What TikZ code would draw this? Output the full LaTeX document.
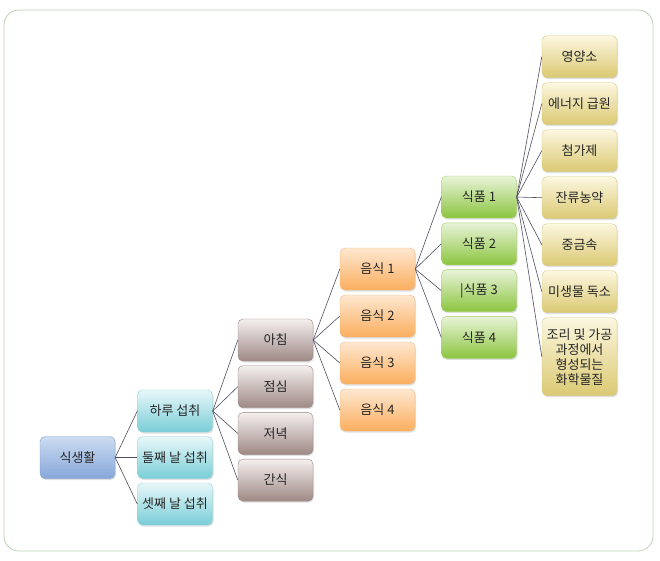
\documentclass[tikz,border=0pt]{standalone}
\usepackage{fontspec}
\setmainfont{Noto Sans CJK KR}
\usepackage{tikz}
\usetikzlibrary{shadows}
\definecolor{framecol}{HTML}{BCD0B2}
\definecolor{linkcol}{HTML}{4E4E60}
\definecolor{blutop}{HTML}{CCDCF0}
\definecolor{blubot}{HTML}{86A6DA}
\definecolor{bluline}{HTML}{7E9CCB}
\definecolor{cyntop}{HTML}{E8F7F9}
\definecolor{cynbot}{HTML}{79CDD7}
\definecolor{cynline}{HTML}{92D2DA}
\definecolor{brntop}{HTML}{F4EFEE}
\definecolor{brnbot}{HTML}{9E8985}
\definecolor{brnline}{HTML}{9A8582}
\definecolor{orgtop}{HTML}{FEE7D0}
\definecolor{orgbot}{HTML}{FBAE5E}
\definecolor{orgline}{HTML}{F6BA7E}
\definecolor{grntop}{HTML}{E8F3D8}
\definecolor{grnbot}{HTML}{8CC53F}
\definecolor{grnline}{HTML}{A2CE6A}
\definecolor{ylwtop}{HTML}{FCF7E0}
\definecolor{ylwbot}{HTML}{DBC972}
\definecolor{ylwline}{HTML}{D6C785}

\begin{document}
\begin{tikzpicture}[x=1pt,y=-1pt,
  box/.style={draw,rounded corners=5pt,minimum width=75pt,minimum height=42pt,inner sep=1pt,
    font=\fontsize{13}{15}\selectfont,text=black!85,align=center,
    drop shadow={opacity=0.25,shadow xshift=1pt,shadow yshift=-1.5pt}},
  blubox/.style={box,draw=bluline,top color=blutop,bottom color=blubot},
  cynbox/.style={box,draw=cynline,top color=cyntop,bottom color=cynbot},
  brnbox/.style={box,draw=brnline,top color=brntop,bottom color=brnbot},
  orgbox/.style={box,draw=orgline,top color=orgtop,bottom color=orgbot},
  grnbox/.style={box,draw=grnline,top color=grntop,bottom color=grnbot},
  ylwbox/.style={box,draw=ylwline,top color=ylwtop,bottom color=ylwbot},
  link/.style={draw=linkcol,line width=0.6pt}]
\useasboundingbox (0,0) rectangle (660,560);
\draw[framecol,line width=0.8pt,rounded corners=15pt] (4,10) rectangle (653,551);
\node[blubox] (diet) at (77.5,457.5) {식생활};
\foreach \t [count=\i] in {하루 섭취,둘째 날 섭취,셋째 날 섭취} {
  \node[cynbox] (day\i) at (175,{411+(\i-1)*46.5}) {\t};
  \draw[link] (diet.east) -- (day\i.west);
}
\foreach \t [count=\i] in {아침,점심,저녁,간식} {
  \node[brnbox] (meal\i) at (275.5,{340+(\i-1)*46.7}) {\t};
  \draw[link] (day1.east) -- (meal\i.west);
}
\foreach \t [count=\i] in {음식 1,음식 2,음식 3,음식 4} {
  \node[orgbox] (dish\i) at (377.5,{269+(\i-1)*47}) {\t};
  \draw[link] (meal1.east) -- (dish\i.west);
}
\foreach \t [count=\i] in {식품 1,식품 2,|식품 3,식품 4} {
  \node[grnbox] (food\i) at (479,{197+(\i-1)*46.8}) {\t};
  \draw[link] (dish1.east) -- (food\i.west);
}
\foreach \t [count=\i] in {영양소,에너지 급원,첨가제,잔류농약,중금속,미생물 독소} {
  \node[ylwbox,anchor=north] (item\i) at (579.5,{35.5+(\i-1)*47}) {\t};
  \draw[link] (food1.east) -- (item\i.west);
}
\node[ylwbox,anchor=north,minimum height=78pt] (item7) at (579.5,317.5)
  {조리 및 가공\\과정에서\\형성되는\\화학물질};
\draw[link] (food1.east) -- (item7.west);
\end{tikzpicture}
\end{document}
